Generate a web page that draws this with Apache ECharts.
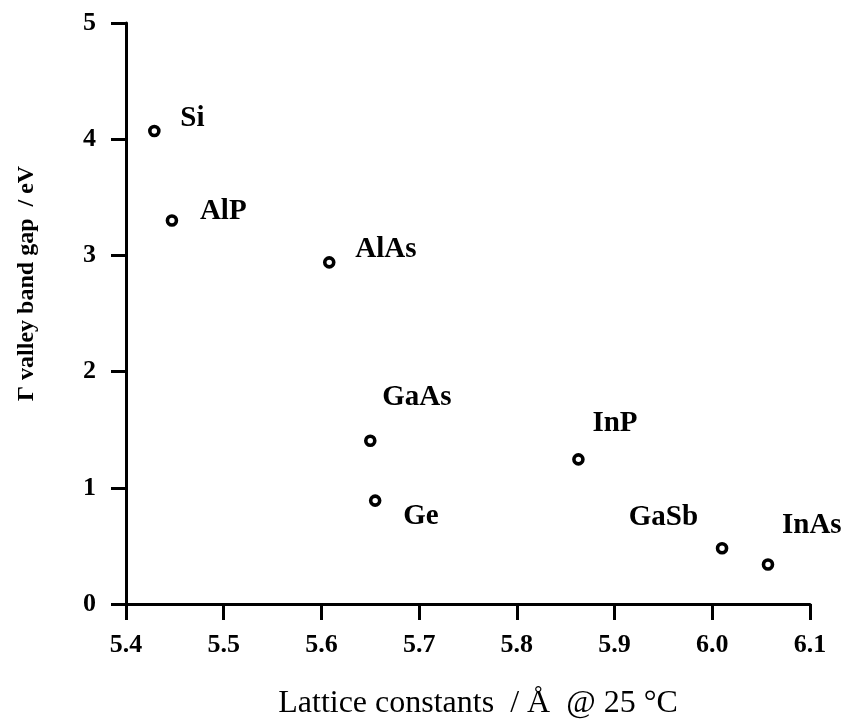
<!DOCTYPE html>
<html>
<head>
<meta charset="utf-8">
<script src="https://cdn.jsdelivr.net/npm/echarts@6/dist/echarts.min.js"></script>
<style>html,body{margin:0;padding:0;background:#fff;}#chart{width:843px;height:726px;}</style>
</head>
<body>
<div id="chart"></div>
<script>
// ---- data ----
var materials = ['Si', 'AlP', 'AlAs', 'GaAs', 'Ge', 'InP', 'GaSb', 'InAs'];
var latticeConstants = [5.429, 5.447, 5.608, 5.650, 5.655, 5.863, 6.010, 6.057];
var bandGaps = [4.07, 3.30, 2.94, 1.405, 0.89, 1.245, 0.48, 0.34];
var xTicks = [5.4, 5.5, 5.6, 5.7, 5.8, 5.9, 6.0, 6.1];
var yTicks = [0, 1, 2, 3, 4, 5];
var xTitle = 'Lattice constants  / Å  @ 25 °C';
var yTitle = 'Γ valley band gap  / eV';

// ---- label placement (style) ----
var labelOffsets = [[26, -13, 'left'], [28, -9, 'left'], [26, -13, 'left'], [12, -43, 'left'],
                    [28, 16, 'left'], [14, -36, 'left'], [-24, -31, 'right'], [14, -39, 'left']];

var points = materials.map(function (m, i) {
  var o = labelOffsets[i];
  return {
    name: m,
    value: [latticeConstants[i], bandGaps[i]],
    label: { show: true, formatter: m, position: 'inside', offset: [o[0], o[1]], align: o[2] }
  };
});

var font = '"Liberation Serif", "Times New Roman", serif';
var chart = echarts.init(document.getElementById('chart'), null, { renderer: 'canvas' });
chart.setOption({
  backgroundColor: '#fff',
  animation: false,
  grid: { left: 126, right: 33, top: 23, bottom: 122, containLabel: false },
  xAxis: {
    type: 'value', min: xTicks[0], max: xTicks[xTicks.length - 1], interval: 0.1,
    name: xTitle, nameLocation: 'middle', nameGap: 84,
    nameTextStyle: { fontFamily: font, fontSize: 32, color: '#000', padding: [0, 0, 0, 20] },
    axisLine: { show: true, onZero: false, lineStyle: { color: '#000', width: 3 } },
    axisTick: { show: true, inside: false, length: 16, lineStyle: { color: '#000', width: 3 } },
    axisLabel: { fontFamily: font, fontWeight: 'bold', fontSize: 26, color: '#000', margin: 28,
                 formatter: function (v) { return v.toFixed(1); } },
    splitLine: { show: false }
  },
  yAxis: {
    type: 'value', min: yTicks[0], max: yTicks[yTicks.length - 1], interval: 1,
    name: yTitle, nameLocation: 'middle', nameGap: 87,
    nameTextStyle: { fontFamily: font, fontWeight: 'bold', fontSize: 24, color: '#000', padding: [0, 0, 0, 60] },
    axisLine: { show: true, onZero: false, lineStyle: { color: '#000', width: 3 } },
    axisTick: { show: true, inside: false, length: 15, lineStyle: { color: '#000', width: 3 } },
    axisLabel: { fontFamily: font, fontWeight: 'bold', fontSize: 26, color: '#000', margin: 30 },
    splitLine: { show: false }
  },
  series: [{
    type: 'scatter',
    data: points,
    symbol: 'circle',
    symbolSize: 9,
    itemStyle: { color: '#fff', borderColor: '#000', borderWidth: 3.6, opacity: 1 },
    label: { fontFamily: font, fontWeight: 'bold', fontSize: 29, color: '#000', verticalAlign: 'middle' }
  }]
});
</script>
</body>
</html>
